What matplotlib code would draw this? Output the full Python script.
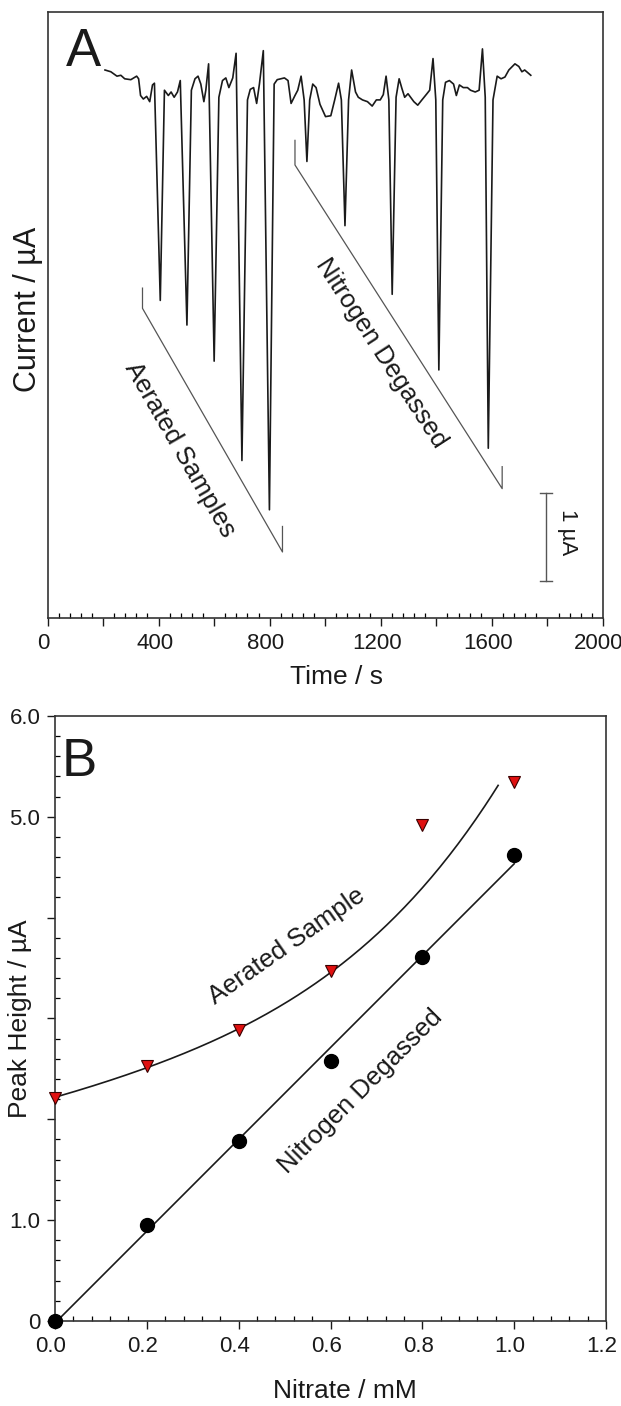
import numpy as np
import matplotlib
matplotlib.use("Agg")
import matplotlib.pyplot as plt
from matplotlib.ticker import MultipleLocator, FuncFormatter
from matplotlib.transforms import ScaledTranslation

plt.rcParams['font.family'] = ['Liberation Sans', 'DejaVu Sans']

# Panel A: amperometric trace (time / s, current / uA)
tiempo = [207, 228, 250, 264, 278, 300, 321, 328, 335, 345,
          357, 368, 378, 385, 406, 421, 435, 445, 456, 468,
          478, 502, 518, 531, 542, 552, 563, 570, 580, 600,
          617, 630, 642, 653, 667, 679, 700, 720, 730, 742,
          753, 763, 777, 799, 816, 827, 853, 866, 877, 891,
          901, 913, 924, 934, 944, 955, 967, 981, 1001, 1020,
          1034, 1048, 1058, 1071, 1084, 1095, 1109, 1119, 1134, 1152,
          1169, 1184, 1198, 1209, 1219, 1229, 1241, 1255, 1266, 1276,
          1286, 1298, 1319, 1333, 1348, 1366, 1376, 1388, 1398, 1409,
          1423, 1433, 1447, 1462, 1472, 1483, 1497, 1512, 1523, 1540,
          1554, 1566, 1576, 1587, 1604, 1619, 1633, 1647, 1661, 1683,
          1697, 1708, 1718, 1740]
corriente = [0.06, 0.04, -0.01, 0.00, -0.04, -0.05, -0.01, -0.04, -0.23, -0.27,
             -0.24, -0.30, -0.11, -0.09, -2.56, -0.17, -0.23, -0.19, -0.25, -0.19,
             -0.06, -2.84, -0.17, -0.04, -0.01, -0.10, -0.30, -0.17, 0.13, -3.25,
             -0.25, -0.06, -0.03, -0.14, -0.03, 0.25, -4.38, -0.28, -0.16, -0.14,
             -0.32, -0.10, 0.28, -4.94, -0.10, -0.05, -0.03, -0.06, -0.32, -0.23,
             -0.17, -0.01, -0.28, -0.98, -0.28, -0.10, -0.14, -0.33, -0.47, -0.46,
             -0.28, -0.09, -0.28, -1.71, -0.28, 0.06, -0.19, -0.25, -0.28, -0.30,
             -0.35, -0.28, -0.28, -0.22, -0.01, -0.28, -2.49, -0.25, -0.04, -0.15,
             -0.25, -0.21, -0.30, -0.34, -0.28, -0.21, -0.17, 0.19, -0.28, -3.35,
             -0.28, -0.08, -0.06, -0.10, -0.23, -0.11, -0.14, -0.14, -0.17, -0.19,
             -0.17, 0.30, -0.25, -4.24, -0.28, -0.01, -0.04, -0.02, 0.06, 0.13,
             0.10, 0.04, 0.06, 0.00]

# brackets under the two groups of peaks
aireado_t = [342, 342, 846, 846]
aireado_i = [-2.42, -2.65, -5.42, -5.13]
nitro_t = [891, 891, 1637, 1637]
nitro_i = [-0.74, -1.02, -4.70, -4.45]

# Panel B: peak height vs nitrate
nitrato = [0.0, 0.2, 0.4, 0.6, 0.8, 1.0]
altura_aireada = [2.21, 2.53, 2.89, 3.47, 4.92, 5.34]
altura_desgas = [0.0, 0.95, 1.78, 2.58, 3.61, 4.62]

# fitted curve for the aerated sample
curva_x = [0.0, 0.1, 0.2, 0.3, 0.4, 0.5, 0.6, 0.68, 0.75, 0.82, 0.88, 0.93, 0.965]
curva_y = [2.22, 2.35, 2.52, 2.69, 2.89, 3.15, 3.47, 3.73, 4.04, 4.43, 4.76, 5.01, 5.34]

tinta = '#1a1a1a'

fig = plt.figure(figsize=(6.21, 14.06), dpi=100)

# ----- A -----
ax1 = fig.add_axes([0.0765, 0.5605, 0.8945, 0.431])
ax1.plot(tiempo, corriente, color=tinta, lw=1.2)
ax1.plot(aireado_t, aireado_i, color='#555555', lw=0.9)
ax1.plot(nitro_t, nitro_i, color='#555555', lw=0.9)
ax1.text(478, -4.26, 'Aerated Samples', rotation=-60, ha='center', va='center',
         rotation_mode='anchor', fontsize=18.5, color=tinta)
ax1.text(1200, -3.16, 'Nitrogen Degassed', rotation=-57, ha='center', va='center',
         rotation_mode='anchor', fontsize=18.5, color=tinta)

# scale bar 1 uA
ax1.plot([1794, 1794], [-4.75, -5.75], color='#555555', lw=1.0)
ax1.plot([1773, 1815], [-4.75, -4.75], color='#555555', lw=1.0)
ax1.plot([1773, 1815], [-5.75, -5.75], color='#555555', lw=1.0)
ax1.text(1874, -5.2, '1 µA', rotation=-90, ha='center', va='center', fontsize=16, color=tinta)

ax1.text(128, 0.27, 'A', fontsize=38, ha='center', va='center', color=tinta)

ax1.set_xlim(0, 2000)
ax1.set_ylim(-6.17, 0.72)
ax1.set_yticks([])
ax1.xaxis.set_major_locator(MultipleLocator(200))
ax1.xaxis.set_minor_locator(MultipleLocator(40))
ax1.xaxis.set_major_formatter(FuncFormatter(lambda v, p: '%d' % v if v % 400 == 0 else ''))
ax1.tick_params(axis='x', which='major', direction='out', length=5.5, width=1, pad=5,
                labelsize=16, colors=tinta)
ax1.tick_params(axis='x', which='minor', direction='in', length=3.4, width=0.9)
ax1.set_xlabel('Time / s', fontsize=19, color=tinta)
ax1.xaxis.set_label_coords(0.521, -0.097)
ax1.xaxis.label.set_va('center')
ax1.set_ylabel('Current / µA', fontsize=22, color=tinta)
ax1.yaxis.set_label_coords(-0.036, 0.51)
ax1.yaxis.label.set_va('center')
for s in ax1.spines.values():
    s.set_linewidth(1.2)
    s.set_color('#333333')

# ----- B -----
ax2 = fig.add_axes([0.0886, 0.0605, 0.8873, 0.4303])
ajuste = np.polyfit(nitrato, altura_desgas, 1)
ax2.plot(nitrato, np.polyval(ajuste, nitrato), color=tinta, lw=1.2)
# smooth the read-off curve
suave = np.polyfit(curva_x, curva_y, 4)
xs = np.linspace(curva_x[0], curva_x[-1], 200)
ax2.plot(xs, np.polyval(suave, xs), color=tinta, lw=1.2)
ax2.plot(nitrato, altura_aireada, 'v', ms=9, mfc='#e01010', mec='#3a0000', mew=0.8,
         clip_on=False, zorder=5)
ax2.plot(nitrato, altura_desgas, 'o', ms=10, mfc='black', mec='black', clip_on=False, zorder=5)

ax2.text(0.505, 3.72, 'Aerated Sample', rotation=35, ha='center', va='center',
         rotation_mode='anchor', fontsize=18.5, color=tinta)
ax2.text(0.665, 2.28, 'Nitrogen Degassed', rotation=45, ha='center', va='center',
         rotation_mode='anchor', fontsize=18.5, color=tinta)
ax2.text(0.052, 5.54, 'B', fontsize=38, ha='center', va='center', color=tinta)

ax2.set_xlim(0, 1.2)
ax2.set_ylim(0, 6)
ax2.xaxis.set_major_locator(MultipleLocator(0.2))
ax2.xaxis.set_minor_locator(MultipleLocator(0.04))
ax2.xaxis.set_major_formatter(FuncFormatter(lambda v, p: '%.1f' % v))
ax2.yaxis.set_major_locator(MultipleLocator(1))
ax2.yaxis.set_minor_locator(MultipleLocator(0.2))
etiquetas_y = {0: '0', 1: '1.0', 5: '5.0', 6: '6.0'}
ax2.yaxis.set_major_formatter(FuncFormatter(lambda v, p: etiquetas_y.get(int(round(v)), '')))
ax2.tick_params(which='major', direction='out', length=5.5, width=1, pad=5,
                labelsize=16, colors=tinta)
ax2.tick_params(which='minor', direction='in', length=3.4, width=0.9)
ax2.set_xlabel('Nitrate / mM', fontsize=19, color=tinta)
ax2.xaxis.set_label_coords(0.526, -0.116)
ax2.xaxis.label.set_va('center')
ax2.set_ylabel('Peak Height / µA', fontsize=19, color=tinta)
ax2.yaxis.set_label_coords(-0.0635, 0.5)
ax2.yaxis.label.set_va('center')
for s in ax2.spines.values():
    s.set_linewidth(1.2)
    s.set_color('#333333')

# nudge the x tick labels a little left, like the original
fig.canvas.draw()
desplaza = ScaledTranslation(-4 / 100, 0, fig.dpi_scale_trans)
for ax in (ax1, ax2):
    for lbl in ax.get_xticklabels():
        lbl.set_transform(lbl.get_transform() + desplaza)
ultimo = ax1.get_xticklabels()[-1]
ultimo.set_transform(ultimo.get_transform() + ScaledTranslation(-4 / 100, 0, fig.dpi_scale_trans))
ultimo_b = ax2.get_xticklabels()[-1]
ultimo_b.set_transform(ultimo_b.get_transform() + ScaledTranslation(-2 / 100, 0, fig.dpi_scale_trans))

plt.savefig('out.png', dpi=100)
